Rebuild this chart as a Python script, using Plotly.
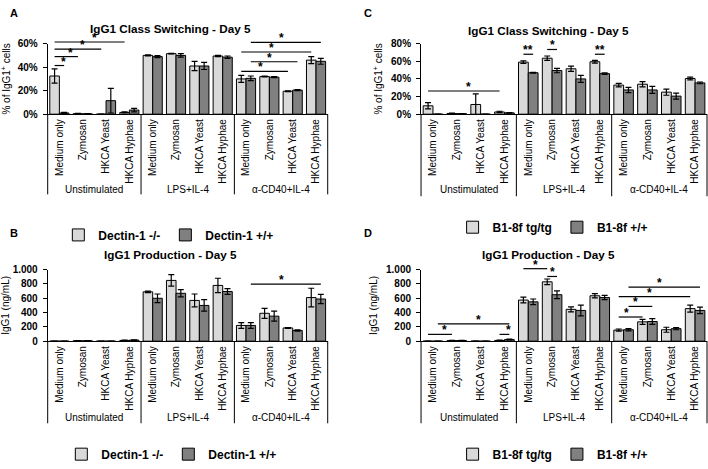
import plotly.graph_objects as go

# ---------------- data ----------------
groups = ["Unstimulated", "LPS+IL-4", "α-CD40+IL-4"]
stimuli = ["Medium only", "Zymosan", "HKCA Yeast", "HKCA Hyphae"]

# Panel A: % IgG1+ cells (Dectin-1)
a_ko = [32.5, 0.4, 0.0, 1.5, 50.0, 51.5, 41.0, 49.5, 30.0, 32.0, 19.5, 46.0]
a_ko_err = [6.0, 0.2, 0.0, 0.5, 0.5, 0.3, 4.0, 0.5, 3.0, 0.3, 0.3, 3.0]
a_wt = [1.0, 0.3, 11.5, 3.5, 49.0, 50.0, 41.0, 48.5, 30.5, 31.5, 20.5, 45.0]
a_wt_err = [0.5, 0.2, 10.5, 1.5, 0.8, 1.5, 3.0, 1.0, 2.0, 0.5, 0.5, 2.5]

# Panel B: IgG1 ng/mL (Dectin-1)
b_ko = [0, 5, 0, 10, 690, 850, 570, 780, 220, 390, 185, 610]
b_ko_err = [0, 2, 0, 4, 10, 80, 90, 100, 40, 70, 5, 130]
b_wt = [0, 5, 0, 15, 600, 670, 500, 695, 220, 350, 150, 590]
b_wt_err = [0, 2, 0, 5, 60, 50, 80, 40, 40, 70, 10, 65]

# Panel C: % IgG1+ cells (B1-8f)
c_tg = [9.5, 0.8, 11.0, 2.5, 59.0, 63.5, 51.5, 59.5, 33.0, 34.0, 25.0, 40.5]
c_tg_err = [3.5, 0.3, 12.0, 0.8, 1.5, 2.5, 3.0, 1.5, 2.0, 3.0, 3.5, 1.5]
c_wt = [0.0, 0.5, 0.0, 1.5, 47.0, 49.5, 40.0, 46.0, 27.5, 27.5, 20.5, 35.5]
c_wt_err = [0.0, 0.2, 0.0, 0.4, 0.5, 2.5, 4.0, 1.0, 3.0, 4.0, 3.5, 1.0]

# Panel D: IgG1 ng/mL (B1-8f)
d_tg = [0, 8, 0, 10, 575, 830, 445, 635, 155, 270, 160, 455]
d_tg_err = [0, 2, 0, 4, 40, 40, 35, 30, 15, 35, 35, 50]
d_wt = [0, 8, 0, 22, 550, 650, 430, 610, 160, 275, 175, 430]
d_wt_err = [0, 2, 0, 6, 40, 55, 75, 30, 15, 40, 15, 45]

# significance bars: (start index, side, end index, side, y value, label)
sig_a = [(0, "L", 0, "D", 41.4, "*"), (0, "L", 1, "L", 49.0, "*"),
         (0, "L", 2, "L", 55.3, "*"), (0, "L", 3, "L", 61.4, "*"),
         (8, "L", 10, "L", 36.4, "*"), (8, "D", 10, "D", 44.6, "*"),
         (8, "L", 11, "L", 52.9, "*"), (8, "D", 11, "D", 61.1, "*")]
sig_b = [(8, "D", 11, "D", 797, "*")]
sig_c = [(4, "L", 4, "D", 68.0, "**"), (5, "L", 5, "D", 73.4, "*"),
         (7, "L", 7, "D", 68.0, "**"), (0, "L", 3, "L", 26.3, "*")]
sig_d = [(0, "L", 1, "L", 95, "*"), (0, "D", 3, "D", 243, "*"),
         (3, "L", 3, "D", 95, "*"), (4, "L", 5, "L", 1014, "*"),
         (5, "L", 5, "D", 905, "*"), (8, "L", 9, "L", 338, "*"),
         (8, "D", 9, "D", 486, "*"), (8, "L", 11, "L", 622, "*"),
         (8, "D", 11, "D", 757, "*")]

# ---------------- figure ----------------
W, H = 708, 469
FONT = "Liberation Sans, Arial, sans-serif"
LIGHT = "#d9d9d9"
DARK = "#808080"
BARGAP = 0.18
NG, NS = len(groups), len(stimuli)
NCAT = NG * NS
xpos = list(range(NCAT))
xlabels = [s for _ in groups for s in stimuli]

fig = go.Figure()


def add_pair(vals1, err1, vals2, err2, names, xa, ya, legend):
    for vals, err, name, col in ((vals1, err1, names[0], LIGHT), (vals2, err2, names[1], DARK)):
        fig.add_trace(go.Bar(
            x=xpos, y=vals, name=name, xaxis=xa, yaxis=ya, legend=legend,
            marker=dict(color=col, line=dict(color="black", width=1)),
            error_y=dict(type="data", array=err, color="black", thickness=1.2, width=3),
        ))


add_pair(a_ko, a_ko_err, a_wt, a_wt_err, ["Dectin-1 -/-", "Dectin-1 +/+"], "x", "y", "legend")
add_pair(b_ko, b_ko_err, b_wt, b_wt_err, ["Dectin-1 -/-", "Dectin-1 +/+"], "x2", "y2", "legend2")
add_pair(c_tg, c_tg_err, c_wt, c_wt_err, ["B1-8f tg/tg", "B1-8f +/+"], "x3", "y3", "legend3")
add_pair(d_tg, d_tg_err, d_wt, d_wt_err, ["B1-8f tg/tg", "B1-8f +/+"], "x4", "y4", "legend4")


def px_x(p):
    return p / W


def px_y(p):
    return (H - p) / H


xdomL = [px_x(43), px_x(325)]
xdomR = [px_x(419), px_x(707)]
ydomT = [px_y(112), px_y(39)]
ydomB = [px_y(347), px_y(273)]

xcommon = dict(tickangle=-90, showline=True, linecolor="black", linewidth=1,
               ticks="", showgrid=False, zeroline=False,
               tickvals=xpos, ticktext=xlabels,
               tickfont=dict(family=FONT, size=10, color="black"),
               range=[-0.5, NCAT - 0.5])
ycommon = dict(showline=True, linecolor="black", linewidth=1, ticks="outside",
               ticklen=4, tickcolor="black", showgrid=False, zeroline=False,
               ticklabelstandoff=3,
               tickfont=dict(family=FONT, size=10, color="black", weight="bold"))

pct_title = dict(text="% of IgG1<sup>+</sup> cells", font=dict(family=FONT, size=10, color="black"), standoff=6)
ng_title = dict(text="IgG1 (ng/mL)", font=dict(family=FONT, size=10, color="black"), standoff=6)
ng_vals = [0, 200, 400, 600, 800, 1000]
ng_text = ["0", "200", "400", "600", "800", "1.000"]

fig.update_layout(
    width=W, height=H, margin=dict(l=0, r=0, t=0, b=0),
    paper_bgcolor="white", plot_bgcolor="white",
    barmode="group", bargap=BARGAP, bargroupgap=0,
    font=dict(family=FONT, size=10, color="black"),
    xaxis=dict(domain=xdomL, anchor="y", **xcommon),
    yaxis=dict(domain=ydomT, anchor="x", range=[0, 60], dtick=20, ticksuffix="%",
               title=pct_title, **ycommon),
    xaxis2=dict(domain=xdomL, anchor="y2", **xcommon),
    yaxis2=dict(domain=ydomB, anchor="x2", range=[0, 1000], tickvals=ng_vals,
                ticktext=ng_text, title=ng_title, **ycommon),
    xaxis3=dict(domain=xdomR, anchor="y3", **xcommon),
    yaxis3=dict(domain=ydomT, anchor="x3", range=[0, 80], dtick=20, ticksuffix="%",
                title=pct_title, **ycommon),
    xaxis4=dict(domain=xdomR, anchor="y4", **xcommon),
    yaxis4=dict(domain=ydomB, anchor="x4", range=[0, 1000], tickvals=ng_vals,
                ticktext=ng_text, title=ng_title, **ycommon),
)

legfont = dict(family=FONT, size=12, color="black", weight="bold")
for key, cx, cy in (("legend", 165, 237), ("legend2", 168, 464),
                    ("legend3", 552, 229), ("legend4", 552, 464)):
    fig.update_layout({key: dict(orientation="h", x=px_x(cx), xanchor="center",
                                 y=px_y(cy), yanchor="middle", font=legfont,
                                 bgcolor="rgba(0,0,0,0)", itemwidth=30,
                                 traceorder="normal")})

# group labels and dividers below each x axis (axis name, group label y px, divider end px)
for xa, ya, label_y, div_end in (("x", "y", 190, 195), ("x2", "y2", 426, 432),
                                 ("x3", "y3", 190, 197), ("x4", "y4", 426, 432)):
    ydom = fig.layout[ya.replace("y", "yaxis")].domain
    for gi, g in enumerate(groups):
        fig.add_annotation(xref=f"{xa} domain", yref="paper", x=(gi + 0.5) / NG,
                           y=px_y(label_y), text=g, showarrow=False,
                           xanchor="center", yanchor="middle",
                           font=dict(family=FONT, size=10, color="black"))
    for gi in range(NG + 1):
        fig.add_shape(type="line", xref=f"{xa} domain", yref="paper",
                      x0=gi / NG, x1=gi / NG, y0=ydom[0], y1=px_y(div_end),
                      line=dict(color="black", width=1))

# significance bars
OFF = (1 - BARGAP) / 4


def xd(i, side):
    pos = i + (-OFF if side == "L" else OFF)
    return (pos + 0.5) / NCAT


def add_sigs(sigs, xa, ya, ymax):
    for i0, s0, i1, s1, yv, lab in sigs:
        yy = yv / ymax
        fig.add_shape(type="line", xref=f"{xa} domain", yref=f"{ya} domain",
                      x0=xd(i0, s0), x1=xd(i1, s1), y0=yy, y1=yy,
                      line=dict(color="black", width=1.2))
        fig.add_annotation(xref=f"{xa} domain", yref=f"{ya} domain",
                           x=(xd(i0, s0) + xd(i1, s1)) / 2, y=yy, text=lab,
                           showarrow=False, yanchor="bottom", yshift=-5,
                           font=dict(family=FONT, size=12, color="black", weight="bold"))


add_sigs(sig_a, "x", "y", 60)
add_sigs(sig_b, "x2", "y2", 1000)
add_sigs(sig_c, "x3", "y3", 80)
add_sigs(sig_d, "x4", "y4", 1000)

# titles and panel letters
for txt, cx, cy in (("IgG1 Class Switching - Day 5", 167, 23), ("IgG1 Class Switching - Day 5", 547, 25),
                    ("IgG1 Production - Day 5", 167, 257), ("IgG1 Production - Day 5", 547, 257)):
    fig.add_annotation(xref="paper", yref="paper", x=px_x(cx), y=px_y(cy), text=txt,
                       showarrow=False, xanchor="center", yanchor="middle",
                       font=dict(family=FONT, size=11.7, color="black", weight="bold"))
for txt, cx, cy in (("A", 3, 7), ("C", 360, 7), ("B", 3, 235), ("D", 360, 235)):
    fig.add_annotation(xref="paper", yref="paper", x=px_x(cx), y=px_y(cy), text=txt,
                       showarrow=False, xanchor="left", yanchor="middle",
                       font=dict(family=FONT, size=11, color="black", weight="bold"))

fig.write_html("out.html", config={"displayModeBar": False},
               post_script="document.body.style.margin='0px';document.body.style.overflow='hidden';")
